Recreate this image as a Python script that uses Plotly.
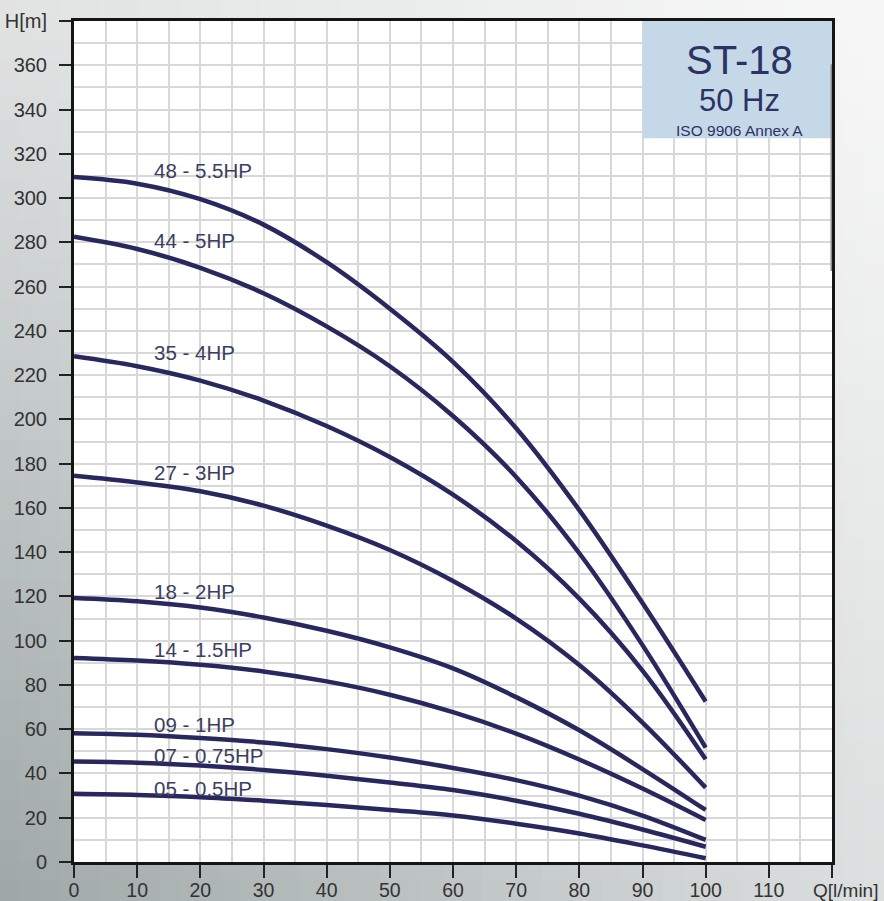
import plotly.graph_objects as go

# ---------------- data ----------------
Q = [0, 10, 20, 30, 40, 50, 60, 70, 80, 90, 100]
H_48 = [309.5, 306.5, 299.5, 288, 271, 250, 226, 196, 159, 117, 72.5]
H_44 = [282.5, 277, 268.5, 257, 242, 224, 201.5, 174, 139.5, 98, 51.7]
H_35 = [228.5, 224, 217.5, 208.5, 197, 183, 166, 145, 119, 86.5, 46.4]
H_27 = [174.5, 171.5, 167.5, 161, 152, 141, 127, 110, 89, 63, 33.6]
H_18 = [119.3, 117.8, 115, 110.5, 104.5, 97, 87.5, 74.5, 59.5, 42, 23.5]
H_14 = [92.2, 91, 89.1, 86.1, 81.6, 75.6, 67.7, 58, 46.3, 33.2, 19]
H_09 = [58.2, 57.5, 56, 54, 51, 47.2, 42.5, 37, 30, 21, 10]
H_07 = [45.4, 44.9, 43.6, 41.6, 39, 35.9, 32.5, 27.7, 21.8, 14.7, 6.9]
H_05 = [30.8, 30.3, 29.3, 27.7, 25.8, 23.5, 21, 17.3, 12.9, 7.5, 1.7]

series = [H_48, H_44, H_35, H_27, H_18, H_14, H_09, H_07, H_05]
labels = ["48 - 5.5HP", "44 - 5HP", "35 - 4HP", "27 - 3HP", "18 - 2HP",
          "14 - 1.5HP", "09 - 1HP", "07 - 0.75HP", "05 - 0.5HP"]
label_H = [312.4, 281, 230, 175.8, 122.3, 96.2, 62.3, 48.1, 33.3]
label_Q = 12.3

x_tickvals = [0, 10, 20, 30, 40, 50, 60, 70, 80, 90, 100, 110, 120]
x_ticktext = ["0", "10", "20", "30", "40", "50", "60", "70", "80", "90", "100", "110", ""]
y_tickvals = list(range(0, 381, 20))
y_ticktext = [str(v) for v in range(0, 361, 20)] + ["H[m]"]

title_main = "ST-18"
title_freq = "50 Hz"
title_std = "ISO 9906 Annex A"
x_unit = "Q[l/min]"

# ---------------- figure ----------------
W, H = 884, 901
fig = go.Figure()

CURVE = "#28285f"
for ys in series:
    fig.add_trace(go.Scatter(x=Q, y=ys, mode="lines",
                             line=dict(color=CURVE, width=4.5, shape="spline"),
                             hoverinfo="skip", showlegend=False))

FONT = "Arial, Liberation Sans, sans-serif"
annotations = []
for txt, hy in zip(labels, label_H):
    annotations.append(dict(x=label_Q, y=hy, xref="x", yref="y", text=txt,
                            showarrow=False, xanchor="left", yanchor="middle",
                            font=dict(family=FONT, size=20.5, color="#3b3e5e")))

annotations += [
    dict(x=105.3, y=362.5, xref="x", yref="y", text=title_main, showarrow=False,
         font=dict(family=FONT, size=40, color="#2d3264")),
    dict(x=105.3, y=344, xref="x", yref="y", text=title_freq, showarrow=False,
         font=dict(family=FONT, size=31, color="#2d3264")),
    dict(x=105.3, y=330.3, xref="x", yref="y", text=title_std, showarrow=False,
         font=dict(family=FONT, size=15.5, color="#2d3264")),
    dict(x=1.0175, y=-0.034, xref="paper", yref="paper", text=x_unit, showarrow=False,
         xanchor="center", yanchor="middle",
         font=dict(family=FONT, size=19, color="#333333")),
]

L, R, T, B = 74, 832, 21, 862

# background gradient, built in pixel space then mapped to paper coords
shapes = []
nx, ny = 44, 45
for i in range(nx):
    for j in range(ny):
        px0, px1 = i * W / nx, (i + 1) * W / nx
        py0, py1 = j * H / ny, (j + 1) * H / ny
        if px0 >= L and px1 <= R and py0 >= T and py1 <= B:
            continue
        u = (px0 + px1) / 2 / W
        v = 1 - (py0 + py1) / 2 / H
        d = (1 - v) * (0.3 + 0.7 * (1 - u)) + 0.25 * v * (1 - u)
        d = max(0.0, min(1.0, d))
        r = round(248 - d * (248 - 158))
        g = round(248 - d * (248 - 167))
        b = round(248 - d * (248 - 167))
        shapes.append(dict(type="rect", xref="paper", yref="paper", layer="below",
                           x0=(px0 - L) / (R - L) - 0.001, x1=(px1 - L) / (R - L) + 0.001,
                           y0=(B - py1) / (B - T) - 0.001, y1=(B - py0) / (B - T) + 0.001,
                           line=dict(width=0), fillcolor=f"rgb({r},{g},{b})"))

shapes.append(dict(type="rect", xref="x", yref="y", layer="below",
                   x0=0, x1=120, y0=0, y1=380, line=dict(width=0), fillcolor="white"))
shapes.append(dict(type="rect", xref="x", yref="y", layer="between",
                   x0=90, x1=120, y0=327, y1=380, line=dict(width=0), fillcolor="#c4d8e8"))
shapes.append(dict(type="line", xref="x", yref="y", layer="above",
                   x0=120, x1=120, y0=267, y1=360.5, line=dict(color="#8c8c8c", width=3)))

GRID = "#d8d8d8"
fig.update_layout(
    width=W, height=H, autosize=False,
    margin=dict(l=L, r=W - R, t=T, b=H - B, pad=0),
    paper_bgcolor="#f4f4f4", plot_bgcolor="white",
    shapes=shapes, annotations=annotations,
    showlegend=False,
    xaxis=dict(range=[0, 120], tickvals=x_tickvals, ticktext=x_ticktext,
               automargin=False,
               showgrid=True, gridcolor=GRID, gridwidth=1.5,
               minor=dict(dtick=5, showgrid=True, gridcolor=GRID, gridwidth=1.5, ticks=""),
               ticks="outside", ticklen=13, tickwidth=2, tickcolor="#222222",
               ticklabelstandoff=-4,
               showline=True, linewidth=3, linecolor="#151515", mirror=True,
               zeroline=False,
               tickfont=dict(family=FONT, size=19.5, color="#333333")),
    yaxis=dict(range=[0, 380], tickvals=y_tickvals, ticktext=y_ticktext,
               automargin=False,
               showgrid=True, gridcolor=GRID, gridwidth=1.5,
               minor=dict(dtick=10, showgrid=True, gridcolor=GRID, gridwidth=1.5, ticks=""),
               ticks="outside", ticklen=12, tickwidth=2, tickcolor="#222222",
               ticklabelstandoff=8,
               showline=True, linewidth=3, linecolor="#151515", mirror=True,
               zeroline=False,
               tickfont=dict(family=FONT, size=20, color="#333333")),
)

fig.write_html("out.html", config={"displayModeBar": False, "responsive": False},
               post_script="document.body.style.margin='0';document.body.style.overflow='hidden';")
